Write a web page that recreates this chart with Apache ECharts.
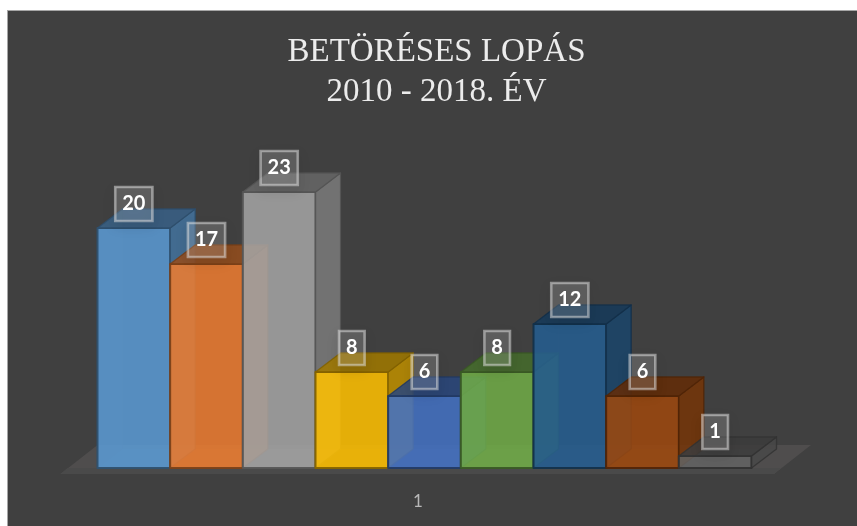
<!DOCTYPE html>
<html>
<head>
<meta charset="utf-8">
<style>
html,body{margin:0;padding:0;background:#fff;width:857px;height:526px;overflow:hidden}
#frame{position:absolute;left:7px;top:10px;width:850px;height:516px;box-sizing:border-box;border-left:1px solid #a6a6a6;border-top:1px solid #a6a6a6;background:#404040}
#chart{position:absolute;left:0;top:0;width:857px;height:526px}
</style>
<script src="https://cdn.jsdelivr.net/npm/echarts@6/dist/echarts.min.js"></script>
</head>
<body>
<div id="frame"></div>
<div id="chart"></div>
<script>
const titleLines = ['BETÖRÉSES LOPÁS', '2010 - 2018. ÉV'];
const categories = ['1'];
const seriesNames = ['2010', '2011', '2012', '2013', '2014', '2015', '2016', '2017', '2018'];
const values = [20, 17, 23, 8, 6, 8, 12, 6, 1];
const colors = [[91,155,213],[237,125,49],[165,165,165],[255,192,0],[68,114,196],[112,173,71],[37,94,145],[158,72,14],[99,99,99]];

const DX = 25, DY = 19;
const tone = (c, k, a) => `rgba(${c.map(v => Math.min(255, Math.round(v * k))).join(',')},${a})`;
const poly = (points, fill, stroke, lw) => ({
  type: 'polygon', shape: { points },
  style: { fill, stroke: stroke || 'none', lineWidth: lw || 0, lineJoin: 'round' }
});
const barBox = (api, seriesIndexInBand, value) => {
  const base = api.coord([0, 0]), top = api.coord([0, value]);
  const band = api.size([1, 0])[0], w = band / values.length;
  const x = base[0] - band / 2 + seriesIndexInBand * w;
  return { x, w, yb: base[1], yt: top[1] };
};

const floorSeries = {
  type: 'custom', name: 'floor', silent: true, z: 1,
  data: [[0, 0]],
  renderItem: (p, api) => {
    const b = barBox(api, 0, 0), band = api.size([1, 0])[0];
    const xl = b.x - 37, xr = b.x + band + 22.5, yf = b.yb + 6, yk = b.yb - 23;
    return { type: 'group', children: [
      poly([[xl, yf], [xr, yf], [xr + 37, yk], [b.x, yk]], '#4f4d4d'),
      poly([[xl + 7, b.yb], [xr + 7, b.yb], [xr, yf], [xl, yf]], '#4a4a4a')
    ]};
  }
};

const barSeries = {
  type: 'custom', name: 'bars', silent: true, z: 2,
  data: values.map((v, i) => [0, v, i]),
  encode: { x: 0, y: 1 },
  renderItem: (p, api) => {
    const v = api.value(1), i = api.value(2), c = colors[i];
    const { x, w, yb, yt } = barBox(api, i, v);
    const line = tone(c, 0.52, 0.95);
    const sideLine = tone(c, 0.5, 0.85);
    return { type: 'group', children: [
      poly([[x + DX, yb - DY], [x + w + DX, yb - DY], [x + w + DX, yt - DY], [x + DX, yt - DY]], tone(c, 0.9, 0.35)),
      poly([[x, yb], [x + DX, yb - DY], [x + DX, yt - DY], [x, yt]], tone(c, 1, 0.33)),
      poly([[x, yb], [x + w, yb], [x + w + DX, yb - DY], [x + DX, yb - DY]], tone(c, 1, 0.36)),
      poly([[x, yb], [x + w, yb], [x + w, yt], [x, yt]], tone(c, 1, 0.8), line, 2),
      poly([[x + w, yb], [x + w + DX, yb - DY], [x + w + DX, yt - DY], [x + w, yt]], tone(c, 0.72, 0.82), sideLine, 1.3),
      poly([[x, yt], [x + w, yt], [x + w + DX, yt - DY], [x + DX, yt - DY]], tone(c, 0.6, 0.82), sideLine, 1.3)
    ]};
  }
};

const labelSeries = {
  type: 'custom', name: 'labels', silent: true, z: 3,
  data: values.map((v, i) => [0, v, i]),
  encode: { x: 0, y: 1 },
  renderItem: (p, api) => {
    const v = api.value(1), i = api.value(2);
    const { x, w, yt } = barBox(api, i, v);
    return {
      type: 'text', z2: 10,
      style: {
        x: x + w / 2, y: yt - 24,
        text: String(v),
        align: 'center', verticalAlign: 'middle',
        fill: '#ffffff',
        font: '700 20px Lato, Carlito, sans-serif',
        backgroundColor: 'rgba(255,255,255,0.16)',
        borderColor: 'rgba(225,225,225,0.52)', borderWidth: 1.3,
        padding: [7, 7, 7, 7],
        shadowColor: 'rgba(0,0,0,0.28)', shadowBlur: 12, shadowOffsetY: 5
      }
    };
  }
};

const chart = echarts.init(document.getElementById('chart'), null, { renderer: 'canvas' });
chart.setOption({
  animation: false,
  backgroundColor: 'transparent',
  title: {
    text: titleLines.join('\n'),
    left: 431.5, top: 28, textAlign: 'center',
    textStyle: { color: '#ececec', fontFamily: '"Liberation Serif", serif', fontWeight: 'normal', fontSize: 33, lineHeight: 39.5 }
  },
  grid: { left: 97.5, width: 654, top: 108, height: 360 },
  xAxis: {
    type: 'category', data: categories,
    axisLine: { show: false }, axisTick: { show: false },
    axisLabel: { color: '#b8b8b8', fontFamily: 'Lato, sans-serif', fontSize: 17, margin: 25, padding: [0, 13, 0, 0] }
  },
  yAxis: { type: 'value', min: 0, max: 30, show: false },
  series: [floorSeries, barSeries, labelSeries]
});
</script>
</body>
</html>
